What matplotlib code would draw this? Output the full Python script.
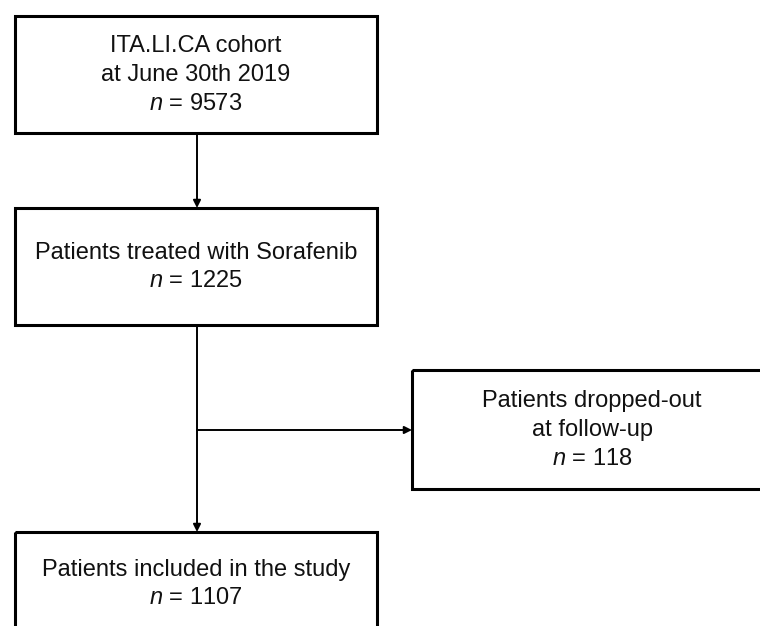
import matplotlib.pyplot as plt
from matplotlib.patches import Rectangle

# box texts and counts
labels = ["ITA.LI.CA cohort\nat June 30th 2019",
          "Patients treated with Sorafenib",
          "Patients dropped-out\nat follow-up",
          "Patients included in the study"]
counts = [9573, 1225, 118, 1107]

# box geometry in pixel units (x0, y0 top, x1, y1 bottom)
boxes = [(15, 16, 377, 133),
         (15, 208, 377, 325),
         (412, 370, 772, 489),
         (15, 532, 377, 634)]

plt.rcParams['font.family'] = ['Liberation Sans', 'DejaVu Sans']
plt.rcParams['mathtext.fontset'] = 'custom'
plt.rcParams['mathtext.rm'] = 'Liberation Sans'
plt.rcParams['mathtext.it'] = 'Liberation Sans:italic'

fig = plt.figure(figsize=(7.6, 6.26), dpi=100)
ax = fig.add_axes([0, 0, 1, 1])
ax.set_xlim(0, 760)
ax.set_ylim(626, 0)
ax.axis('off')

text_centers = [75, 267, 430, 584]
text_x = [196, 196, 592, 196]
for (x0, y0, x1, y1), lab, n, yc, cx in zip(boxes, labels, counts, text_centers, text_x):
    ax.add_patch(Rectangle((x0, y0), x1 - x0, y1 - y0, fill=False,
                           edgecolor='black', lw=2.2, clip_on=False))
    txt = lab + "\n" + r"$\it{n}$ = %d" % n
    ax.text(cx, yc, txt, ha='center', va='center', fontsize=17,
            linespacing=1.4, color='#111111')

# arrows
arrow = dict(arrowstyle='-|>', color='black', lw=1.4, mutation_scale=11,
             shrinkA=0, shrinkB=0)
xv = 197
ax.annotate('', xy=(xv, boxes[1][1]), xytext=(xv, boxes[0][3]), arrowprops=arrow)
ax.annotate('', xy=(xv, boxes[3][1]), xytext=(xv, boxes[1][3]), arrowprops=arrow)
ax.annotate('', xy=(boxes[2][0], 430), xytext=(xv, 430), arrowprops=arrow)

fig.savefig('out.png', dpi=100)
